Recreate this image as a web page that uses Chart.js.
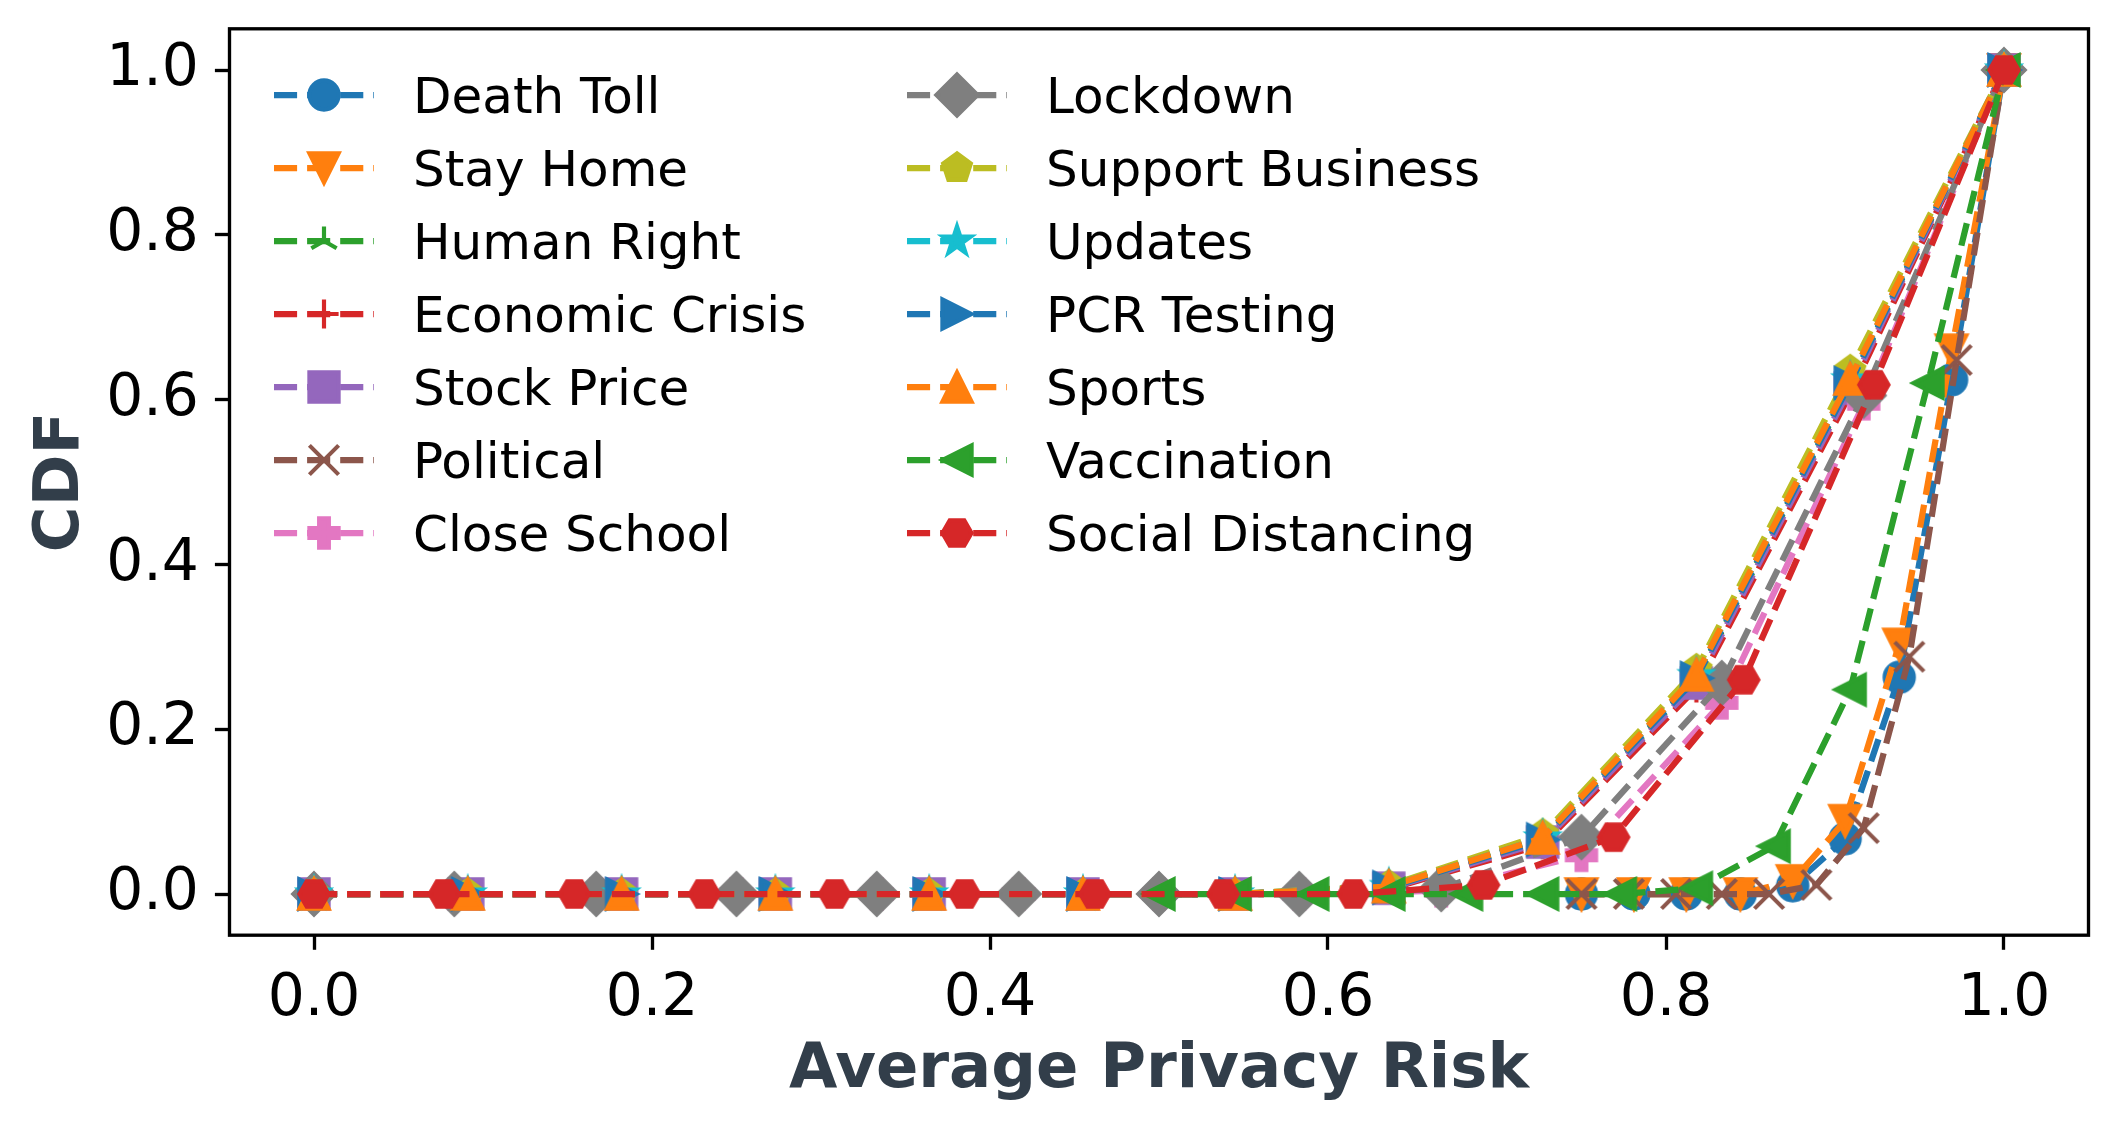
<!DOCTYPE html>
<html>
<head>
<meta charset="utf-8">
<script src="https://cdn.jsdelivr.net/npm/chart.js@4.4.1/dist/chart.umd.min.js"></script>
<style>
  html, body { margin: 0; padding: 0; background: #fff; overflow: hidden; }
  canvas { display: block; }
</style>
</head>
<body>
<canvas id="cdfChart" width="2118" height="1128"></canvas>
<script>
// x positions of each CDF
const xElevenths = [0, 0.091, 0.182, 0.273, 0.364, 0.455, 0.545, 0.636, 0.727, 0.818, 0.909, 1.0];
const xTwelfths = [0, 0.083, 0.167, 0.25, 0.333, 0.417, 0.5, 0.583, 0.667, 0.75, 0.833, 0.917, 1.0];
const xThirteenths = [0, 0.077, 0.154, 0.231, 0.308, 0.385, 0.462, 0.538, 0.615, 0.692, 0.769, 0.846, 0.923, 1.0];
const xDeathToll = [0.75, 0.781, 0.812, 0.844, 0.875, 0.906, 0.938, 0.969, 1.0];
const xStayHome = [0.75, 0.781, 0.812, 0.844, 0.875, 0.906, 0.938, 0.969, 1.0];
const xPolitical = [0.75, 0.778, 0.806, 0.833, 0.861, 0.889, 0.917, 0.944, 0.972, 1.0];
const xVaccination = [0.5, 0.545, 0.591, 0.636, 0.682, 0.727, 0.773, 0.818, 0.864, 0.909, 0.955, 1.0];

// CDF values
const deathToll = [0, 0, 0, 0, 0.01, 0.067, 0.263, 0.624, 1];
const stayHome = [0, 0, 0, 0, 0.016, 0.089, 0.303, 0.66, 1];
const humanRight = [0, 0, 0, 0, 0, 0, 0, 0.008, 0.065, 0.26, 0.618, 1];
const economicCrisis = [0, 0, 0, 0, 0, 0, 0, 0.006, 0.06, 0.25, 0.607, 1];
const stockPrice = [0, 0, 0, 0, 0, 0, 0, 0.007, 0.063, 0.256, 0.614, 1];
const political = [0, 0, 0, 0, 0, 0.011, 0.08, 0.288, 0.648, 1];
const closeSchool = [0, 0, 0, 0, 0, 0, 0, 0, 0.004, 0.047, 0.232, 0.595, 1];
const lockdown = [0, 0, 0, 0, 0, 0, 0, 0, 0.006, 0.069, 0.256, 0.605, 1];
const supportBusiness = [0, 0, 0, 0, 0, 0, 0, 0.01, 0.072, 0.272, 0.635, 1];
const updates = [0, 0, 0, 0, 0, 0, 0, 0.009, 0.068, 0.265, 0.624, 1];
const pcrTesting = [0, 0, 0, 0, 0, 0, 0, 0.008, 0.066, 0.262, 0.62, 1];
const sports = [0, 0, 0, 0, 0, 0, 0, 0.009, 0.068, 0.266, 0.625, 1];
const vaccination = [0, 0, 0, 0, 0, 0, 0, 0.007, 0.058, 0.248, 0.62, 1];
const socialDistancing = [0, 0, 0, 0, 0, 0, 0, 0, 0, 0.011, 0.069, 0.26, 0.618, 1];

const xTicks = [0, 0.2, 0.4, 0.6, 0.8, 1.0];
const yTicks = [0, 0.2, 0.4, 0.6, 0.8, 1.0];

const seriesNames = ['Death Toll', 'Stay Home', 'Human Right', 'Economic Crisis', 'Stock Price', 'Political', 'Close School',
    'Lockdown', 'Support Business', 'Updates', 'PCR Testing', 'Sports', 'Vaccination', 'Social Distancing'];
const seriesX = [xDeathToll, xStayHome, xElevenths, xElevenths, xElevenths, xPolitical, xTwelfths,
    xTwelfths, xElevenths, xElevenths, xElevenths, xElevenths, xVaccination, xThirteenths];
const seriesY = [deathToll, stayHome, humanRight, economicCrisis, stockPrice, political, closeSchool,
    lockdown, supportBusiness, updates, pcrTesting, sports, vaccination, socialDistancing];
const seriesColors = ['#1f77b4', '#ff7f0e', '#2ca02c', '#d62728', '#9467bd', '#8c564b', '#e377c2',
    '#7f7f7f', '#bcbd22', '#17becf', '#1f77b4', '#ff7f0e', '#2ca02c', '#d62728'];
const seriesMarkers = ['circle', 'triDown', 'triUp', 'plus', 'square', 'x', 'plusFilled',
    'diamond', 'pentagon', 'star', 'triRight', 'triUpFilled', 'triLeft', 'hexagon'];

// sizes in px (300 dpi look)
const LW = 6.25;
const DASH = [23.1, 10];
const MS = 29.2;
const MEW = 4.17;
const TITLE_COLOR = '#323e4a';

Chart.defaults.font.family = '"DejaVu Sans", sans-serif';
Chart.defaults.color = '#000';

function makeMarker(shape, color) {
    const size = 60;
    const c = document.createElement('canvas');
    c.width = size;
    c.height = size;
    const g = c.getContext('2d');
    const r = MS / 2;
    g.translate(size / 2, size / 2);
    g.fillStyle = color;
    g.strokeStyle = color;
    g.lineWidth = MEW;
    g.lineJoin = 'miter';
    g.lineCap = 'butt';
    let filled = true;

    function poly(pts) {
        g.beginPath();
        pts.forEach((p, i) => i ? g.lineTo(p[0], p[1]) : g.moveTo(p[0], p[1]));
        g.closePath();
    }
    function regular(n, rad, startDeg) {
        const pts = [];
        for (let k = 0; k < n; k++) {
            const a = (startDeg + k * 360 / n) * Math.PI / 180;
            pts.push([rad * Math.cos(a), -rad * Math.sin(a)]);
        }
        poly(pts);
    }

    switch (shape) {
        case 'circle':
            g.beginPath();
            g.arc(0, 0, r, 0, Math.PI * 2);
            break;
        case 'triDown':
            poly([[0, r], [-r, -r], [r, -r]]);
            break;
        case 'triUpFilled':
            poly([[0, -r], [-r, r], [r, r]]);
            break;
        case 'triLeft':
            poly([[-r, 0], [r, r], [r, -r]]);
            break;
        case 'triRight':
            poly([[r, 0], [-r, -r], [-r, r]]);
            break;
        case 'square':
            poly([[-r, -r], [r, -r], [r, r], [-r, r]]);
            break;
        case 'diamond':
            poly([[0, -r * Math.SQRT2], [r * Math.SQRT2, 0], [0, r * Math.SQRT2], [-r * Math.SQRT2, 0]]);
            break;
        case 'pentagon':
            regular(5, r, 90);
            break;
        case 'hexagon':
            regular(6, r, 0);
            break;
        case 'star': {
            const pts = [];
            for (let k = 0; k < 10; k++) {
                const rad = k % 2 ? r * 0.381966 : r;
                const a = (90 + k * 36) * Math.PI / 180;
                pts.push([rad * Math.cos(a), -rad * Math.sin(a)]);
            }
            poly(pts);
            break;
        }
        case 'plusFilled': {
            const u = r / 3;
            poly([[-u, -3 * u], [u, -3 * u], [u, -u], [3 * u, -u], [3 * u, u], [u, u],
                [u, 3 * u], [-u, 3 * u], [-u, u], [-3 * u, u], [-3 * u, -u], [-u, -u]]);
            break;
        }
        case 'plus':
            filled = false;
            g.beginPath();
            g.moveTo(-r, 0); g.lineTo(r, 0);
            g.moveTo(0, -r); g.lineTo(0, r);
            break;
        case 'x':
            filled = false;
            g.beginPath();
            g.moveTo(-r, -r); g.lineTo(r, r);
            g.moveTo(-r, r); g.lineTo(r, -r);
            break;
        case 'triUp':
            filled = false;
            g.beginPath();
            g.moveTo(0, 0); g.lineTo(0, -r);
            g.moveTo(0, 0); g.lineTo(-0.866 * r, 0.5 * r);
            g.moveTo(0, 0); g.lineTo(0.866 * r, 0.5 * r);
            break;
    }
    if (filled) g.fill();
    g.stroke();
    return c;
}

const datasets = seriesNames.map((name, i) => ({
    label: name,
    data: seriesX[i].map((x, j) => ({ x: x, y: seriesY[i][j] })),
    borderColor: seriesColors[i],
    backgroundColor: seriesColors[i],
    borderWidth: LW,
    borderDash: DASH,
    borderJoinStyle: 'round',
    pointStyle: makeMarker(seriesMarkers[i], seriesColors[i]),
    pointRadius: 14,
    pointHoverRadius: 14,
    tension: 0,
    fill: false,
    order: -i   // later series on top, like matplotlib
}));

// two column legend without frame, drawn the matplotlib way
const legendCols = [274, 907];
const legendTop = 95;
const legendGap = 73;

const mplLegend = {
    id: 'mplLegend',
    afterDraw(chart) {
        const ctx = chart.ctx;
        chart.data.datasets.forEach((ds, i) => {
            const x0 = legendCols[Math.floor(i / 7)];
            const y = legendTop + (i % 7) * legendGap;
            ctx.save();
            ctx.strokeStyle = ds.borderColor;
            ctx.lineWidth = LW;
            ctx.setLineDash(DASH);
            ctx.beginPath();
            ctx.moveTo(x0, y);
            ctx.lineTo(x0 + 100, y);
            ctx.stroke();
            ctx.setLineDash([]);
            const m = ds.pointStyle;
            ctx.drawImage(m, x0 + 50 - m.width / 2, y - m.height / 2);
            ctx.fillStyle = '#000';
            ctx.font = '50px "DejaVu Sans"';
            ctx.textBaseline = 'alphabetic';
            ctx.fillText(ds.label, x0 + 139, y + 18.2);
            ctx.restore();
        });
    }
};

const frame = {
    id: 'frame',
    afterDatasetsDraw(chart) {
        const a = chart.chartArea;
        const ctx = chart.ctx;
        ctx.save();
        ctx.strokeStyle = '#000';
        ctx.lineWidth = 3.33;
        ctx.strokeRect(a.left, a.top, a.right - a.left, a.bottom - a.top);
        ctx.restore();
    }
};

const ctx = document.getElementById('cdfChart').getContext('2d');
const cdfChart = new Chart(ctx, {
    type: 'line',
    data: { datasets: datasets },
    plugins: [mplLegend, frame],
    options: {
        responsive: false,
        animation: false,
        events: [],
        layout: { padding: { top: 28.8, right: 29.5, left: 0, bottom: 0 } },
        plugins: { legend: { display: false }, tooltip: { enabled: false } },
        scales: {
            x: {
                type: 'linear',
                min: -0.05,
                max: 1.05,
                afterBuildTicks: (s) => { s.ticks = xTicks.map(v => ({ value: v })); },
                afterFit: (s) => { s.height = 192.8; s.paddingLeft = 0; s.paddingRight = 0; },
                grid: { drawOnChartArea: false, drawTicks: true, tickLength: 14.6, tickWidth: 3.33, tickColor: '#000' },
                border: { display: false },
                ticks: {
                    autoSkip: false, maxRotation: 0, padding: 15.5,
                    font: { size: 58.3 }, color: '#000',
                    callback: (v) => v.toFixed(1)
                },
                title: {
                    display: true, text: 'Average Privacy Risk', color: TITLE_COLOR,
                    font: { size: 62.5, weight: 'bold' }, padding: { top: 0, bottom: 20 }
                }
            },
            y: {
                type: 'linear',
                min: -0.05,
                max: 1.05,
                afterBuildTicks: (s) => { s.ticks = yTicks.map(v => ({ value: v })); },
                afterFit: (s) => { s.width = 229.5; s.paddingTop = 0; s.paddingBottom = 0; },
                grid: { drawOnChartArea: false, drawTicks: true, tickLength: 14.6, tickWidth: 3.33, tickColor: '#000' },
                border: { display: false },
                ticks: {
                    autoSkip: false, padding: 16,
                    font: { size: 58.3 }, color: '#000',
                    callback: (v) => v.toFixed(1)
                },
                title: {
                    display: true, text: 'CDF', color: TITLE_COLOR,
                    font: { size: 62.5, weight: 'bold' }, padding: { top: 24, bottom: 0 }
                }
            }
        }
    }
});
</script>
</body>
</html>
